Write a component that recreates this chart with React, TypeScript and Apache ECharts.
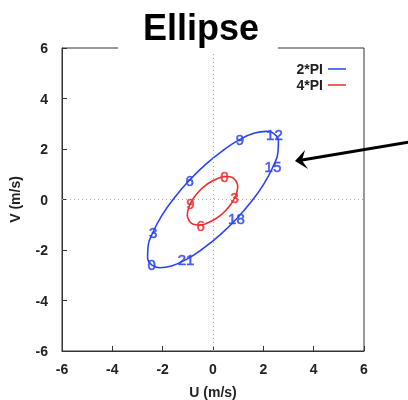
import React, { useEffect, useRef } from "react";
import * as echarts from "echarts";

// Blue ellipse (2*PI): hourly points, hours 0..23
const blueU = [-2.44, -2.6, -2.58, -2.38, -2.03, -1.53, -0.93, -0.27, 0.42, 1.07, 1.65, 2.12, 2.44, 2.6, 2.58, 2.38, 2.03, 1.53, 0.93, 0.27, -0.42, -1.07, -1.65, -2.12];
const blueV = [-2.59, -2.3, -1.86, -1.29, -0.63, 0.07, 0.77, 1.41, 1.96, 2.38, 2.63, 2.7, 2.59, 2.3, 1.86, 1.29, 0.63, -0.07, -0.77, -1.41, -1.96, -2.38, -2.63, -2.7];
const blueHours = [0, 1, 2, 3, 4, 5, 6, 7, 8, 9, 10, 11, 12, 13, 14, 15, 16, 17, 18, 19, 20, 21, 22, 23];

// Red ellipse (4*PI): half-hourly points, hours 0..11.5
const redU = [0.45, 0.66, 0.83, 0.93, 0.98, 0.95, 0.86, 0.71, 0.51, 0.27, 0.01, -0.25, -0.49, -0.7, -0.87, -0.97, -1.02, -0.99, -0.9, -0.75, -0.55, -0.31, -0.05, 0.21];
const redV = [0.91, 0.9, 0.83, 0.7, 0.52, 0.3, 0.06, -0.19, -0.43, -0.65, -0.82, -0.94, -1.01, -1.0, -0.93, -0.8, -0.62, -0.4, -0.16, 0.09, 0.33, 0.55, 0.72, 0.84];
const redHours = [0, 0.5, 1, 1.5, 2, 2.5, 3, 3.5, 4, 4.5, 5, 5.5, 6, 6.5, 7, 7.5, 8, 8.5, 9, 9.5, 10, 10.5, 11, 11.5];

const labelStep = 3; // hours between labels
const axisTicks = [-6, -4, -2, 0, 2, 4, 6];

const BLUE = "#2a44f5";
const RED = "#f02b2b";
const FONT = "'Liberation Sans', Arial, sans-serif";

function closed(u: number[], v: number[]) {
  const pts = u.map((x, i) => [x, v[i]]);
  pts.push([u[0], v[0]]);
  return pts;
}

function labelled(u: number[], v: number[], h: number[]) {
  const out: any[] = [];
  h.forEach((hr, i) => {
    if (Math.abs(hr % labelStep) < 1e-9) out.push([u[i], v[i], hr]);
  });
  return out;
}

export default function App() {
  const ref = useRef<HTMLDivElement>(null);
  useEffect(() => {
    if (!ref.current) return;
    const chart = echarts.init(ref.current, null, { renderer: "svg" });
    const axisCommon = {
      type: "value",
      min: axisTicks[0],
      max: axisTicks[axisTicks.length - 1],
      interval: 2,
      axisLine: { show: true, onZero: false, lineStyle: { color: "#333", width: 1 } },
      axisTick: { show: true, inside: true, length: 5, lineStyle: { color: "#333" } },
      splitLine: { show: false },
      nameTextStyle: { color: "#222", fontSize: 14, fontWeight: "bold", fontFamily: FONT },
    };
    const tickLabel = { color: "#222", fontSize: 14, fontWeight: "bold", fontFamily: FONT };
    const labelSeries = (name: string, data: any[], color: string) => ({
      name,
      type: "scatter",
      data,
      symbolSize: 1,
      itemStyle: { color: "rgba(0,0,0,0)" },
      z: 5,
      label: {
        show: true,
        position: "inside",
        formatter: (p: any) => String(p.value[2]),
        color,
        fontSize: 15,
        fontFamily: FONT,
        textBorderColor: color,
        textBorderWidth: 0.6,
      },
    });
    chart.setOption({
      animation: false,
      title: {
        text: "Ellipse",
        left: 138,
        top: 4,
        z: 20,
        textStyle: { fontSize: 36, fontWeight: "bold", color: "#000", fontFamily: FONT },
      },
      grid: {
        left: 62,
        right: 44,
        top: 48,
        bottom: 49,
        outerBoundsMode: "none",
        containLabel: false,
        show: true,
        borderColor: "#333",
        borderWidth: 1,
        backgroundColor: "transparent",
      },
      legend: {
        data: [
          { name: "2*PI", icon: "rect" },
          { name: "4*PI", icon: "rect" },
        ],
        orient: "vertical",
        right: 57,
        top: 56,
        align: "right",
        itemWidth: 18,
        itemHeight: 1.5,
        itemGap: 0,
        textStyle: { fontSize: 14, fontWeight: "bold", color: "#222", fontFamily: FONT, lineHeight: 16 },
      },
      xAxis: {
        ...axisCommon,
        name: "U (m/s)",
        nameLocation: "middle",
        nameGap: 34,
        axisLabel: { ...tickLabel, margin: 11 },
      },
      yAxis: {
        ...axisCommon,
        name: "V (m/s)",
        nameLocation: "middle",
        nameGap: 40,
        axisLabel: { ...tickLabel, margin: 14 },
      },
      series: [
        {
          name: "2*PI",
          type: "line",
          data: closed(blueU, blueV),
          smooth: 0.5,
          symbol: "none",
          lineStyle: { color: BLUE, width: 1.6 },
          itemStyle: { color: BLUE },
          z: 3,
          markLine: {
            silent: true,
            symbol: "none",
            label: { show: false },
            lineStyle: { color: "#aaa", type: [1, 3], width: 1 },
            data: [{ xAxis: 0 }, { yAxis: 0 }],
          },
        },
        {
          name: "4*PI",
          type: "line",
          data: closed(redU, redV),
          smooth: 0.5,
          symbol: "none",
          lineStyle: { color: RED, width: 1.6 },
          itemStyle: { color: RED },
          z: 3,
        },
        labelSeries("blueLabels", labelled(blueU, blueV, blueHours), BLUE),
        labelSeries("redLabels", labelled(redU, redV, redHours), RED),
      ],
      graphic: [
        { type: "rect", shape: { x: 118, y: 45, width: 160, height: 6 }, style: { fill: "#fff" }, z: 10 },
        {
          type: "line",
          shape: { x1: 410, y1: 142, x2: 302, y2: 160 },
          style: { stroke: "#000", lineWidth: 3 },
          z: 100,
        },
        {
          type: "polygon",
          shape: { points: [[295, 161], [305, 150], [302, 160.5], [308, 169]] },
          style: { fill: "#000" },
          z: 100,
        },
      ],
    });
    return () => chart.dispose();
  }, []);
  return <div ref={ref} style={{ width: 408, height: 400, position: "fixed", left: 0, top: 0 }} />;
}
